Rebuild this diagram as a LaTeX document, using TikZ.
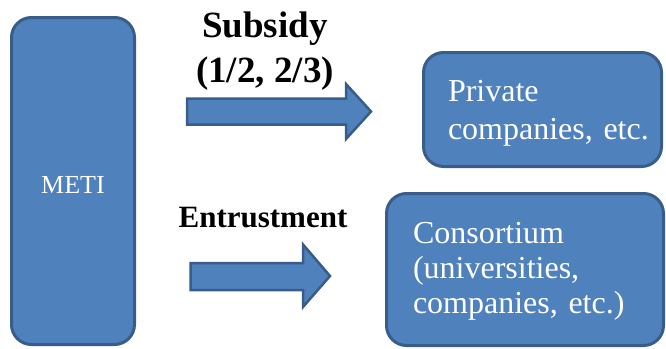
\documentclass[tikz,border=0pt]{standalone}
\usepackage{fontspec}
\setmainfont{Liberation Serif}
\usepackage{xcolor}
\usetikzlibrary{positioning}

\definecolor{boxfill}{HTML}{4F81BD}
\definecolor{boxedge}{HTML}{385D8A}

\tikzset{
    bluebox/.style={draw=boxedge, fill=boxfill, line width=3pt, rounded corners=20pt,
        text=white, inner sep=0pt},
    blockarrow/.style={draw=boxedge, fill=boxfill, line width=2.5pt},
    flowlabel/.style={font=\bfseries, anchor=base}
}

\begin{document}
\begin{tikzpicture}[x=1pt, y=-1pt]
    \useasboundingbox (0,0) rectangle (666,348);

    % Ministry
    \node[bluebox, minimum width=123pt, minimum height=327pt,
          font=\fontsize{26}{30}\selectfont, text height=25pt, text depth=0pt]
          (meti) at (73,181) {METI};

    % Recipients
    \node[bluebox, minimum width=238pt, minimum height=114pt, inner xsep=24.5pt,
          text width=189pt, align=left, text height=22pt, text depth=37.6pt,
          font=\fontsize{32}{38}\selectfont]
          (private) at (542.5,109.5) {Private\\companies,~etc.};
    \node[bluebox, minimum width=277pt, minimum height=152pt, inner xsep=26.5pt,
          text width=224pt, align=left, text height=22pt, text depth=74pt,
          font=\fontsize{32}{35}\selectfont]
          (consortium) at (525,269.5) {Consortium\\(universities,\\companies, etc.)};

    % Subsidy arrow
    \draw[blockarrow] (187,98.5) -- (346,98.5) -- (346,84) -- (371,111.5)
        -- (346,139) -- (346,124.5) -- (187,124.5) -- cycle;
    \node[flowlabel, align=center, font=\fontsize{37}{45}\selectfont\bfseries]
        (subsidy) at (265,82) {Subsidy\\(1/2, 2/3)};

    % Entrustment arrow
    \draw[blockarrow] (190.5,263) -- (303,263) -- (303,244.5) -- (330,276)
        -- (303,307) -- (303,290) -- (190.5,290) -- cycle;
    \node[flowlabel, font=\fontsize{31}{36}\selectfont\bfseries]
        (entrust) at (263,227) {Entrustment};
\end{tikzpicture}
\end{document}
